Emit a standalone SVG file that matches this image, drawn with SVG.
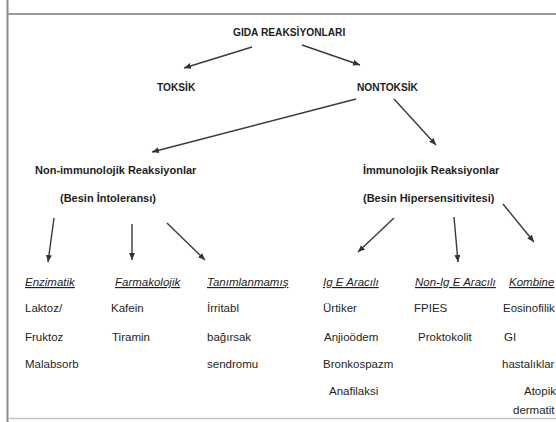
<svg xmlns="http://www.w3.org/2000/svg" width="556" height="422" viewBox="0 0 556 422">
<defs>
<marker id="ah" markerUnits="userSpaceOnUse" markerWidth="8" markerHeight="6" refX="7" refY="3" orient="auto">
<path d="M0,0 L7,3 L0,6 z" fill="#333"/>
</marker>
<style>
text{font-family:"Liberation Sans",Arial,sans-serif;fill:#1e1e1e;font-size:11.5px}
.b{font-weight:bold;font-size:11px}
.t{font-weight:bold;font-size:10.2px}
.u{font-style:italic;text-decoration:underline}
.c line{stroke:#3a3a3a;stroke-width:1.4;marker-end:url(#ah)}
.f{stroke-width:2;fill:none}
</style>
</defs>
<rect width="556" height="422" fill="#fff"/>
<g id="frame">
<line x1="7.5" y1="0" x2="7.5" y2="422" stroke="#8a8a8a" stroke-width="2"/>
<line x1="8" y1="14" x2="556" y2="14" stroke="#9a9a9a" stroke-width="2"/>
<line x1="8" y1="418.5" x2="556" y2="418.5" stroke="#c4c4c4" stroke-width="1.5"/>
</g>
<g id="connectors" class="c">
<line x1="252" y1="47" x2="184" y2="68"/>
<line x1="302" y1="45" x2="360" y2="65"/>
<line x1="356" y1="99" x2="152" y2="152"/>
<line x1="394" y1="99" x2="436" y2="145"/>
<line x1="54" y1="218" x2="48" y2="262"/>
<line x1="132" y1="224" x2="132" y2="260"/>
<line x1="167" y1="223" x2="205" y2="260"/>
<line x1="394" y1="218" x2="358" y2="252"/>
<line x1="454" y1="217" x2="458" y2="262"/>
<line x1="503" y1="204" x2="534" y2="242"/>
</g>
<g id="n-gida"><text class="t" x="233" y="36">GIDA REAKSİYONLARI</text></g>
<g id="n-toksik"><text class="t" x="157" y="91">TOKSİK</text></g>
<g id="n-nontoksik"><text class="t" x="357" y="91">NONTOKSİK</text></g>
<g id="n-nonimm">
<text class="b" x="35" y="174">Non-immunolojik Reaksiyonlar</text>
<text class="b" x="60" y="202">(Besin İntoleransı)</text>
</g>
<g id="n-imm">
<text class="b" x="363" y="174">İmmunolojik Reaksiyonlar</text>
<text class="b" x="363" y="202">(Besin Hipersensitivitesi)</text>
</g>
<g id="n-enzimatik">
<text class="u" x="25" y="286">Enzimatik</text>
<text x="25" y="312">Laktoz/</text>
<text x="25" y="341">Fruktoz</text>
<text x="25" y="368">Malabsorb</text>
</g>
<g id="n-farmakolojik">
<text class="u" x="115" y="286">Farmakolojik</text>
<text x="111" y="312">Kafein</text>
<text x="112" y="341">Tiramin</text>
</g>
<g id="n-tanimlanmamis">
<text class="u" x="207" y="286">Tanımlanmamış</text>
<text x="207" y="312">İrritabl</text>
<text x="207" y="341">bağırsak</text>
<text x="207" y="368">sendromu</text>
</g>
<g id="n-ige">
<text class="u" x="323" y="286">Ig E Aracılı</text>
<text x="323" y="312">Ürtiker</text>
<text x="324" y="341">Anjioödem</text>
<text x="323" y="368">Bronkospazm</text>
<text x="329" y="395">Anafilaksi</text>
</g>
<g id="n-nonige">
<text class="u" x="415" y="286">Non-Ig E Aracılı</text>
<text x="414" y="312">FPIES</text>
<text x="418" y="341">Proktokolit</text>
</g>
<g id="n-kombine">
<text class="u" x="509" y="286">Kombine</text>
<text x="503" y="312">Eosinofilik</text>
<text x="504" y="341">GI</text>
<text x="502" y="368">hastalıklar</text>
<text x="524" y="395">Atopik</text>
<text x="513" y="414">dermatit</text>
</g>
</svg>
